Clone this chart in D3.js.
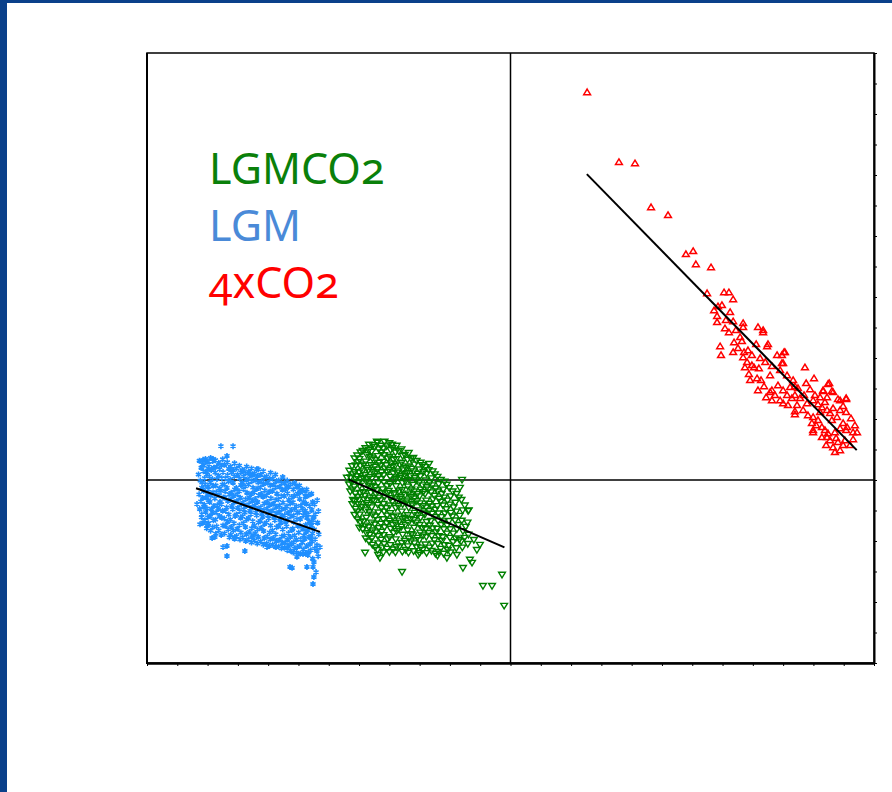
<!DOCTYPE html>
<html>
<head>
<meta charset="utf-8">
<script src="https://cdn.jsdelivr.net/npm/d3@7"></script>
<style>
  html, body { margin: 0; padding: 0; background: #fff; }
  svg { display: block; }
</style>
</head>
<body>
<div id="chart"></div>
<script>
// series labels + colours (legend order top to bottom)
var seriesNames = ['LGMCO2', 'LGM', '4xCO2'];
var seriesColors = ['#0a800a', '#4a8ad8', '#ff0000'];

// axis extents / tick steps read off the frame (no labels printed)
var xDomain = [-12, 12];
var yDomain = [-6, 14];

// LGM points (blue asterisks)
var lgm = [
  [-10.27,0.63],[-10.21,0.40],[-10.30,0.18],[-10.24,-0.02],[-10.19,-0.25],[-10.28,-0.47],[-10.22,-0.70],[-10.26,-0.95],[-10.20,-1.22],[-10.25,-1.45],
  [-10.07,0.69],[-10.12,0.48],[-10.05,0.27],[-10.10,0.06],[-10.08,-0.14],[-10.13,-0.36],[-10.04,-0.58],[-10.11,-0.81],[-10.06,-1.05],[-10.09,-1.32],[-10.03,-1.58],
  [-9.90,0.72],[-9.95,0.52],[-9.88,0.33],[-9.94,0.12],[-9.91,-0.08],[-9.96,-0.30],[-9.89,-0.51],[-9.93,-0.72],[-9.87,-0.95],[-9.92,-1.18],[-9.97,-1.42],[-9.90,-1.66],
  [-9.74,0.65],[-9.70,0.44],[-9.75,0.24],[-9.69,0.03],[-9.73,-0.18],[-9.71,-0.40],[-9.76,-0.61],[-9.68,-0.83],[-9.72,-1.06],[-9.74,-1.30],[-9.70,-1.52],[-9.73,-1.76],
  [-9.50,0.68],[-9.55,0.47],[-9.49,0.26],[-9.53,0.06],[-9.51,-0.15],[-9.56,-0.35],[-9.48,-0.57],[-9.54,-0.79],[-9.50,-1.01],[-9.53,-1.24],[-9.49,-1.49],[-9.55,-1.80],
  [-9.35,0.58],[-9.30,0.37],[-9.34,0.16],[-9.31,-0.05],[-9.36,-0.26],[-9.29,-0.47],[-9.33,-0.69],[-9.37,-0.90],[-9.30,-1.13],[-9.34,-1.37],[-9.32,-1.62],[-9.28,-1.88],
  [-9.11,0.55],[-9.15,0.33],[-9.12,0.12],[-9.16,-0.09],[-9.10,-0.31],[-9.14,-0.52],[-9.13,-0.74],[-9.17,-0.96],[-9.09,-1.18],[-9.13,-1.42],[-9.15,-1.66],[-9.11,-1.93],
  [-8.95,0.47],[-8.91,0.26],[-8.94,0.05],[-8.90,-0.16],[-8.96,-0.37],[-8.92,-0.58],[-8.89,-0.80],[-8.94,-1.02],[-8.91,-1.24],[-8.95,-1.48],[-8.90,-1.72],[-8.93,-1.95],
  [-8.71,0.44],[-8.75,0.22],[-8.72,0.01],[-8.76,-0.21],[-8.70,-0.42],[-8.74,-0.63],[-8.73,-0.85],[-8.77,-1.07],[-8.71,-1.30],[-8.75,-1.54],[-8.72,-1.77],[-8.74,-2.00],
  [-8.55,0.38],[-8.51,0.17],[-8.54,-0.04],[-8.50,-0.25],[-8.56,-0.46],[-8.52,-0.68],[-8.53,-0.90],[-8.57,-1.12],[-8.51,-1.35],[-8.54,-1.58],[-8.50,-1.82],[-8.55,-2.05],
  [-8.32,0.35],[-8.36,0.13],[-8.33,-0.08],[-8.37,-0.29],[-8.31,-0.50],[-8.35,-0.72],[-8.34,-0.94],[-8.38,-1.16],[-8.32,-1.39],[-8.35,-1.62],[-8.33,-1.86],[-8.36,-2.08],
  [-8.16,0.29],[-8.12,0.08],[-8.15,-0.13],[-8.11,-0.34],[-8.17,-0.55],[-8.13,-0.77],[-8.14,-0.99],[-8.18,-1.21],[-8.12,-1.44],[-8.15,-1.67],[-8.13,-1.90],[-8.16,-2.12],
  [-7.92,0.24],[-7.96,0.03],[-7.93,-0.18],[-7.97,-0.39],[-7.91,-0.60],[-7.95,-0.82],[-7.94,-1.04],[-7.98,-1.26],[-7.92,-1.49],[-7.95,-1.72],[-7.93,-1.95],[-7.96,-2.16],
  [-7.76,0.18],[-7.72,-0.03],[-7.75,-0.24],[-7.71,-0.45],[-7.77,-0.66],[-7.73,-0.88],[-7.74,-1.10],[-7.78,-1.32],[-7.72,-1.55],[-7.75,-1.78],[-7.73,-2.00],[-7.76,-2.19],
  [-7.52,0.10],[-7.56,-0.11],[-7.53,-0.32],[-7.57,-0.53],[-7.51,-0.74],[-7.55,-0.96],[-7.54,-1.18],[-7.58,-1.40],[-7.52,-1.62],[-7.55,-1.85],[-7.53,-2.06],[-7.56,-2.24],
  [-7.37,-0.02],[-7.33,-0.23],[-7.36,-0.44],[-7.32,-0.65],[-7.38,-0.86],[-7.34,-1.08],[-7.35,-1.30],[-7.39,-1.52],[-7.33,-1.74],[-7.36,-1.96],[-7.34,-2.16],[-7.37,-2.30],
  [-7.13,-0.10],[-7.17,-0.31],[-7.14,-0.52],[-7.18,-0.73],[-7.12,-0.94],[-7.16,-1.16],[-7.15,-1.38],[-7.19,-1.60],[-7.13,-1.82],[-7.16,-2.04],[-7.14,-2.24],[-7.17,-2.38],
  [-6.97,-0.18],[-6.93,-0.40],[-6.96,-0.62],[-6.92,-0.84],[-6.98,-1.06],[-6.94,-1.28],[-6.95,-1.50],[-6.99,-1.72],[-6.93,-1.94],[-6.96,-2.16],[-6.94,-2.42],
  [-6.73,-0.31],[-6.77,-0.55],[-6.74,-0.78],[-6.78,-1.01],[-6.72,-1.24],[-6.76,-1.47],[-6.75,-1.70],[-6.79,-1.93],[-6.73,-2.16],[-6.76,-2.40],
  [-6.57,-0.45],[-6.53,-0.72],[-6.56,-0.98],[-6.52,-1.24],[-6.58,-1.50],[-6.54,-1.76],[-6.55,-2.02],[-6.59,-2.30],[-6.53,-2.58],
  [-6.38,-0.66],[-6.34,-1.02],[-6.37,-1.40],[-6.33,-1.78],[-6.39,-2.14],[-6.35,-2.50],
  // in between the columns above
  [-10.17,0.52],[-10.14,0.29],[-10.18,-0.08],[-10.15,-0.30],[-10.16,-0.59],[-10.13,-0.88],[-10.19,-1.12],[-10.15,-1.40],
  [-10.01,0.60],[-9.98,0.37],[-10.02,0.18],[-9.99,-0.22],[-10.00,-0.46],[-9.97,-0.66],[-10.02,-0.93],[-9.99,-1.22],[-10.01,-1.50],
  [-9.83,0.62],[-9.80,0.40],[-9.84,0.03],[-9.81,-0.19],[-9.82,-0.41],[-9.79,-0.85],[-9.84,-1.08],[-9.81,-1.32],[-9.83,-1.55],
  [-9.63,0.56],[-9.60,0.35],[-9.64,0.14],[-9.61,-0.28],[-9.62,-0.50],[-9.59,-0.72],[-9.64,-0.95],[-9.61,-1.18],[-9.63,-1.65],
  [-9.44,0.50],[-9.41,0.06],[-9.45,-0.15],[-9.42,-0.37],[-9.43,-0.58],[-9.40,-1.02],[-9.45,-1.26],[-9.42,-1.50],[-9.44,-1.75],
  [-9.24,0.44],[-9.21,0.24],[-9.25,0.02],[-9.22,-0.42],[-9.23,-0.63],[-9.20,-0.85],[-9.25,-1.30],[-9.22,-1.54],[-9.24,-1.80],
  [-9.04,0.38],[-9.01,0.17],[-9.05,-0.26],[-9.02,-0.47],[-9.03,-0.69],[-9.00,-0.91],[-9.05,-1.13],[-9.02,-1.60],[-9.04,-1.84],
  [-8.84,0.33],[-8.81,0.12],[-8.85,-0.09],[-8.82,-0.30],[-8.83,-0.74],[-8.80,-0.96],[-8.85,-1.19],[-8.82,-1.42],[-8.84,-1.88],
  [-8.64,0.27],[-8.61,0.06],[-8.65,-0.15],[-8.62,-0.58],[-8.63,-0.79],[-8.60,-1.01],[-8.65,-1.24],[-8.62,-1.70],[-8.64,-1.94],
  [-8.45,0.22],[-8.42,0.01],[-8.46,-0.40],[-8.43,-0.62],[-8.44,-0.84],[-8.41,-1.06],[-8.46,-1.50],[-8.43,-1.74],[-8.45,-1.98],
  [-8.25,0.17],[-8.22,-0.04],[-8.26,-0.25],[-8.23,-0.46],[-8.24,-0.89],[-8.21,-1.11],[-8.26,-1.34],[-8.23,-1.57],[-8.25,-2.02],
  [-8.05,0.12],[-8.02,-0.09],[-8.06,-0.51],[-8.03,-0.72],[-8.04,-0.94],[-8.01,-1.16],[-8.06,-1.39],[-8.03,-1.85],[-8.05,-2.08],
  [-7.85,0.05],[-7.82,-0.15],[-7.86,-0.36],[-7.83,-0.78],[-7.84,-0.99],[-7.81,-1.21],[-7.86,-1.66],[-7.83,-1.90],[-7.85,-2.12],
  [-7.65,-0.02],[-7.62,-0.22],[-7.66,-0.63],[-7.63,-0.84],[-7.64,-1.05],[-7.61,-1.27],[-7.66,-1.50],[-7.63,-1.96],[-7.65,-2.18],
  [-7.46,-0.10],[-7.43,-0.31],[-7.47,-0.52],[-7.44,-0.94],[-7.45,-1.15],[-7.42,-1.37],[-7.47,-1.82],[-7.44,-2.05],[-7.46,-2.22],
  [-7.26,-0.14],[-7.23,-0.56],[-7.27,-0.77],[-7.24,-0.98],[-7.25,-1.20],[-7.22,-1.64],[-7.27,-1.87],[-7.24,-2.10],[-7.26,-2.32],
  [-7.06,-0.22],[-7.03,-0.45],[-7.07,-0.86],[-7.04,-1.07],[-7.05,-1.29],[-7.02,-1.51],[-7.07,-1.96],[-7.04,-2.20],[-7.06,-2.38],
  [-6.86,-0.32],[-6.83,-0.72],[-6.87,-0.94],[-6.84,-1.16],[-6.85,-1.60],[-6.82,-1.82],[-6.87,-2.05],[-6.84,-2.28],
  [-6.66,-0.50],[-6.63,-0.86],[-6.67,-1.12],[-6.64,-1.36],[-6.65,-1.86],[-6.62,-2.10],[-6.67,-2.36],
  [-6.47,-0.80],[-6.44,-1.12],[-6.48,-1.62],[-6.45,-1.94],[-6.46,-2.24],
  // scattered ones round the edge
  [-9.56,1.11],[-9.16,1.11],[-9.36,0.79],[-9.82,0.69],[-10.15,0.66],[-10.35,-0.79],[-9.99,-1.44],[-9.85,-1.90],
  [-9.76,-1.87],[-9.49,-2.20],[-9.36,-2.16],[-9.36,-2.49],[-9.10,-1.87],[-8.77,-2.33],[-8.53,-1.87],[-8.04,-2.20],
  [-7.74,-2.20],[-7.28,-2.85],[-7.05,-2.52],[-6.85,-2.43],[-6.69,-2.46],[-6.72,-2.85],[-6.52,-2.85],[-6.49,-3.18],
  [-6.52,-3.41],[-6.29,-2.20],[-6.49,-1.21],[-6.52,-1.38],[-6.78,-1.08],[-6.95,-0.36],[-6.78,-0.43],[-7.38,-0.23],
  [-8.37,0.36],[-8.83,0.30],[-8.60,0.20],[-6.49,-2.69],[-6.39,-2.33],[-6.59,-1.90],[-6.69,-1.64],[-6.62,-1.41],
  [-7.21,-2.88],[-6.42,-3.02]
];

// LGMCO2 points (green down triangles)
var lgmco2 = [
  [-5.40,0.07],[-5.32,0.30],[-5.28,0.08],[-5.33,-0.15],[-5.29,-0.38],[-5.20,-0.66],
  [-5.15,0.70],[-5.11,0.47],[-5.14,0.25],[-5.10,0.02],[-5.16,-0.22],[-5.12,-0.45],[-5.14,-0.70],[-5.11,-0.95],[-5.15,-1.15],
  [-4.95,0.90],[-4.99,0.68],[-4.96,0.46],[-5.00,0.24],[-4.94,0.02],[-4.98,-0.20],[-4.97,-0.43],[-5.01,-0.66],[-4.95,-0.90],[-4.98,-1.14],[-4.96,-1.38],[-4.99,-1.57],
  [-4.79,1.04],[-4.75,0.82],[-4.78,0.60],[-4.74,0.38],[-4.80,0.16],[-4.76,-0.06],[-4.77,-0.29],[-4.81,-0.52],[-4.75,-0.76],[-4.78,-1.00],[-4.76,-1.24],[-4.79,-1.50],[-4.75,-1.75],[-4.78,-1.92],
  [-4.55,1.14],[-4.59,0.92],[-4.56,0.70],[-4.60,0.48],[-4.54,0.26],[-4.58,0.04],[-4.57,-0.19],[-4.61,-0.42],[-4.55,-0.66],[-4.58,-0.90],[-4.56,-1.14],[-4.59,-1.40],[-4.55,-1.66],[-4.58,-1.92],[-4.56,-2.13],
  [-4.39,1.22],[-4.35,1.00],[-4.38,0.78],[-4.34,0.56],[-4.40,0.34],[-4.36,0.12],[-4.37,-0.11],[-4.41,-0.34],[-4.35,-0.58],[-4.38,-0.82],[-4.36,-1.07],[-4.39,-1.32],[-4.35,-1.58],[-4.38,-1.84],[-4.36,-2.08],[-4.39,-2.30],
  [-4.16,1.25],[-4.20,1.03],[-4.17,0.81],[-4.21,0.59],[-4.15,0.37],[-4.19,0.15],[-4.18,-0.08],[-4.22,-0.31],[-4.16,-0.55],[-4.19,-0.79],[-4.17,-1.04],[-4.20,-1.29],[-4.16,-1.55],[-4.19,-1.81],[-4.17,-2.10],[-4.20,-2.38],
  [-4.00,1.20],[-3.96,0.98],[-3.99,0.76],[-3.95,0.54],[-4.01,0.32],[-3.97,0.10],[-3.98,-0.13],[-4.02,-0.36],[-3.96,-0.60],[-3.99,-0.84],[-3.97,-1.09],[-4.00,-1.34],[-3.96,-1.60],[-3.99,-1.88],[-3.97,-2.14],[-4.00,-2.37],
  [-3.76,1.12],[-3.80,0.90],[-3.77,0.68],[-3.81,0.46],[-3.75,0.24],[-3.79,0.02],[-3.78,-0.21],[-3.82,-0.44],[-3.76,-0.68],[-3.79,-0.92],[-3.77,-1.17],[-3.80,-1.42],[-3.76,-1.68],[-3.79,-1.95],[-3.77,-2.20],[-3.80,-2.38],
  [-3.60,1.00],[-3.56,0.78],[-3.59,0.56],[-3.55,0.34],[-3.61,0.12],[-3.57,-0.10],[-3.58,-0.33],[-3.62,-0.56],[-3.56,-0.80],[-3.59,-1.04],[-3.57,-1.29],[-3.60,-1.54],[-3.56,-1.80],[-3.59,-2.07],[-3.57,-2.36],
  [-3.36,0.88],[-3.40,0.66],[-3.37,0.44],[-3.41,0.22],[-3.35,0.00],[-3.39,-0.22],[-3.38,-0.45],[-3.42,-0.68],[-3.36,-0.92],[-3.39,-1.16],[-3.37,-1.41],[-3.40,-1.66],[-3.36,-1.92],[-3.39,-2.18],[-3.37,-2.39],
  [-3.21,0.72],[-3.17,0.50],[-3.20,0.28],[-3.16,0.06],[-3.22,-0.16],[-3.18,-0.38],[-3.19,-0.61],[-3.23,-0.84],[-3.17,-1.08],[-3.20,-1.32],[-3.18,-1.57],[-3.21,-1.82],[-3.17,-2.08],[-3.20,-2.34],
  [-2.97,0.56],[-3.01,0.34],[-2.98,0.12],[-3.02,-0.10],[-2.96,-0.32],[-3.00,-0.54],[-2.99,-0.77],[-3.03,-1.00],[-2.97,-1.24],[-3.00,-1.48],[-2.98,-1.73],[-3.01,-1.98],[-2.97,-2.22],[-3.00,-2.40],
  [-2.81,0.42],[-2.77,0.20],[-2.80,-0.02],[-2.76,-0.24],[-2.82,-0.46],[-2.78,-0.68],[-2.79,-0.91],[-2.83,-1.14],[-2.77,-1.38],[-2.80,-1.62],[-2.78,-1.87],[-2.81,-2.12],[-2.77,-2.40],
  [-2.57,0.28],[-2.61,0.05],[-2.58,-0.18],[-2.62,-0.41],[-2.56,-0.64],[-2.60,-0.87],[-2.59,-1.11],[-2.63,-1.35],[-2.57,-1.59],[-2.60,-1.84],[-2.58,-2.09],[-2.61,-2.33],
  [-2.41,0.10],[-2.37,-0.14],[-2.40,-0.38],[-2.36,-0.62],[-2.42,-0.86],[-2.38,-1.10],[-2.39,-1.35],[-2.43,-1.60],[-2.37,-1.85],[-2.40,-2.10],[-2.38,-2.36],[-2.41,-2.49],
  [-2.18,-0.06],[-2.22,-0.32],[-2.19,-0.58],[-2.23,-0.84],[-2.17,-1.10],[-2.21,-1.36],[-2.20,-1.62],[-2.24,-1.88],[-2.18,-2.14],[-2.21,-2.42],
  [-2.02,-0.27],[-1.98,-0.54],[-2.01,-0.81],[-1.97,-1.08],[-2.03,-1.35],[-1.99,-1.62],[-2.00,-1.90],[-2.04,-2.16],[-1.98,-2.38],
  [-1.78,-0.46],[-1.82,-0.75],[-1.79,-1.04],[-1.83,-1.33],[-1.77,-1.62],[-1.81,-1.92],[-1.79,-2.24],
  [-1.62,-0.66],[-1.58,-1.00],[-1.61,-1.34],[-1.57,-1.68],[-1.63,-2.02],[-1.59,-2.22],
  [-1.38,-1.00],[-1.42,-1.40],[-1.39,-1.80],[-1.41,-2.10],
  // in between the columns above
  [-5.23,0.45],[-5.20,0.18],[-5.24,-0.08],[-5.21,-0.32],[-5.22,-0.80],
  [-5.06,0.80],[-5.03,0.58],[-5.07,0.12],[-5.04,-0.10],[-5.05,-0.56],[-5.02,-0.80],[-5.07,-1.04],[-5.04,-1.30],
  [-4.88,0.95],[-4.85,0.50],[-4.89,0.28],[-4.86,0.06],[-4.87,-0.40],[-4.84,-0.64],[-4.89,-0.88],[-4.86,-1.36],[-4.88,-1.62],
  [-4.68,0.98],[-4.65,0.76],[-4.69,0.32],[-4.66,0.10],[-4.67,-0.12],[-4.64,-0.58],[-4.69,-0.82],[-4.66,-1.06],[-4.68,-1.55],[-4.65,-1.80],[-4.67,-2.02],
  [-4.48,1.08],[-4.45,0.65],[-4.49,0.43],[-4.46,0.21],[-4.47,-0.24],[-4.44,-0.47],[-4.49,-0.70],[-4.46,-1.20],[-4.48,-1.46],[-4.45,-1.72],[-4.47,-2.22],
  [-4.28,1.12],[-4.25,0.90],[-4.29,0.47],[-4.26,0.25],[-4.27,0.03],[-4.24,-0.43],[-4.29,-0.67],[-4.26,-0.92],[-4.28,-1.44],[-4.25,-1.70],[-4.27,-1.96],[-4.24,-2.22],
  [-4.09,1.10],[-4.06,0.70],[-4.10,0.48],[-4.07,0.26],[-4.08,-0.20],[-4.05,-0.43],[-4.10,-0.92],[-4.07,-1.17],[-4.09,-1.42],[-4.06,-1.95],[-4.08,-2.26],
  [-3.89,1.05],[-3.86,0.65],[-3.90,0.43],[-3.87,0.21],[-3.88,-0.02],[-3.85,-0.48],[-3.90,-0.72],[-3.87,-1.22],[-3.89,-1.48],[-3.86,-1.74],[-3.88,-2.28],
  [-3.69,0.94],[-3.66,0.50],[-3.70,0.28],[-3.67,0.06],[-3.68,-0.38],[-3.65,-0.62],[-3.70,-0.86],[-3.67,-1.36],[-3.69,-1.62],[-3.66,-2.18],
  [-3.49,0.82],[-3.46,0.40],[-3.50,0.18],[-3.47,-0.04],[-3.48,-0.50],[-3.45,-0.74],[-3.50,-1.24],[-3.47,-1.48],[-3.49,-2.00],[-3.46,-2.30],
  [-3.29,0.70],[-3.26,0.36],[-3.30,0.12],[-3.27,-0.32],[-3.28,-0.56],[-3.25,-0.80],[-3.30,-1.28],[-3.27,-1.78],[-3.29,-2.02],
  [-3.10,0.62],[-3.07,0.20],[-3.11,-0.02],[-3.08,-0.46],[-3.09,-0.70],[-3.06,-1.16],[-3.11,-1.40],[-3.08,-1.90],[-3.10,-2.20],
  [-2.90,0.48],[-2.87,0.26],[-2.91,-0.18],[-2.88,-0.40],[-2.89,-0.86],[-2.86,-1.10],[-2.91,-1.58],[-2.88,-1.82],[-2.90,-2.30],
  [-2.70,0.32],[-2.67,-0.10],[-2.71,-0.32],[-2.68,-0.78],[-2.69,-1.02],[-2.66,-1.50],[-2.71,-1.74],[-2.68,-2.22],
  [-2.50,0.18],[-2.47,-0.28],[-2.51,-0.52],[-2.48,-0.98],[-2.49,-1.22],[-2.46,-1.72],[-2.51,-1.98],[-2.48,-2.42],
  [-2.30,0.00],[-2.27,-0.46],[-2.31,-0.72],[-2.28,-1.22],[-2.29,-1.48],[-2.26,-2.00],[-2.31,-2.26],
  [-2.11,-0.16],[-2.08,-0.68],[-2.12,-0.96],[-2.09,-1.50],[-2.10,-1.76],[-2.07,-2.30],
  [-1.91,-0.38],[-1.88,-0.90],[-1.92,-1.20],[-1.89,-1.76],[-1.90,-2.04],
  [-1.71,-0.58],[-1.68,-1.18],[-1.72,-1.48],[-1.69,-1.96],
  [-1.51,-0.84],[-1.48,-1.54],[-1.52,-1.90],
  // stragglers
  [-3.58,-3.02],[-2.69,0.52],[-1.60,0.00],[-1.67,-0.26],[-1.40,-1.02],[-1.27,-2.72],[-1.57,-2.89],[-1.34,-2.62],
  [-0.91,-3.48],[-0.61,-3.48],[-0.28,-3.11],[-0.21,-4.13],[-1.01,-2.13],[-1.11,-2.30],[-1.21,-1.97],[-1.77,-2.46],
  [-2.10,-2.56],[-4.37,-2.46],[-4.80,-2.39],[-4.31,-2.56],[-3.05,-2.46],[-4.41,1.25],[-3.91,1.15],[-4.67,1.15]
];

// 4xCO2 points (red up triangles)
var co2x4 = [
  [2.53,12.72],[3.58,10.43],[4.11,10.39],[4.64,8.95],[5.20,8.69],[5.79,7.41],[6.03,7.51],[6.12,7.08],[6.62,6.98],
  [6.49,6.13],[7.05,6.16],[7.21,6.16],[7.35,5.93],[6.82,5.38],[6.82,5.18],[7.11,5.25],[7.35,5.21],[7.21,4.85],
  [7.68,5.15],[7.68,5.02],[7.38,4.52],[7.35,4.20],[6.95,4.10],[7.64,4.56],[7.58,4.69],[7.84,4.26],[8.17,5.02],
  [8.34,4.92],[8.34,4.85],[8.50,4.46],[8.47,4.39],[7.68,4.03],[7.81,3.87],[7.97,3.77],[8.04,3.70],[7.74,3.70],
  [7.87,3.48],[8.20,3.67],[8.27,3.28],[8.57,3.44],[8.80,4.10],[9.06,4.20],[8.96,3.84],[8.90,3.61],[8.63,2.95],
  [8.57,2.89],[8.63,2.62],[8.83,3.11],[9.00,2.95],[9.00,2.52],[9.13,2.79],[9.23,3.05],[9.33,3.28],[9.39,3.08],
  [9.49,3.02],[9.72,3.70],[10.02,3.34],[9.76,3.18],[9.89,2.98],[9.69,2.79],[9.39,2.79],[9.56,2.69],[9.39,2.26],
  [9.39,2.16],[9.79,2.52],[9.99,2.62],[10.15,2.49],[10.32,2.95],[10.48,3.15],[10.61,2.92],[10.45,2.72],[10.81,2.66],
  [11.08,2.66],[10.98,2.43],[10.65,2.36],[10.45,2.30],[10.22,2.23],[9.99,2.07],[9.95,1.87],[9.99,1.57],[10.28,1.74],
  [10.48,1.54],[10.71,1.57],[10.88,1.70],[10.98,1.87],[11.11,1.74],[11.31,1.57],[11.44,1.57],[11.31,1.34],[10.98,1.15],
  [10.88,0.98],[10.65,1.08],[10.45,1.41],[10.28,1.41],[10.61,1.97],[10.78,2.07],[10.55,2.20],[10.15,1.97],[10.28,2.39],
  [10.05,2.79],[10.38,2.56],[10.22,2.72],[11.08,1.64],[11.21,1.15],[11.08,2.69],[10.88,2.62],[10.65,2.89],[10.52,3.18],
  [10.32,2.92],[9.03,4.20],[8.96,4.10],[9.00,3.84],[9.13,3.44],[9.99,1.64],
  [7.91,3.28],[8.14,3.34],[8.37,3.08],[8.73,2.79],[8.44,2.72],[8.17,2.95],[8.90,2.62],[9.16,2.46],[9.29,2.69],
  [9.46,2.46],[9.66,2.30],[9.82,2.13],[10.09,1.80],[10.38,1.64],[10.55,1.31],[10.75,1.38],[10.81,1.25],[10.42,1.15],
  [10.71,0.92],[11.04,1.31],[11.37,1.80],[11.24,2.03],[11.08,2.23],[10.88,2.30],[7.44,4.92],[7.08,4.98],[7.51,4.33],
  [7.97,4.10],[8.24,4.00],[8.41,3.87],[8.63,3.74],[8.11,4.46],[7.71,4.20],[6.85,5.70],[6.72,5.57],[6.98,5.74],
  [7.25,5.51],[6.92,4.39]
];

// least-squares lines drawn over each cloud (end points)
var fitLgm = [[-10.38, -0.27], [-6.29, -1.70]];
var fitLgmco2 = [[-5.35, 0.02], [-0.20, -2.21]];
var fitCo2x4 = [[2.52, 10.03], [11.43, 0.98]];

var width = 892, height = 792;
var plotL = 147, plotR = 874, plotT = 53, plotB = 663;

var svg = d3.select('#chart').append('svg')
  .attr('width', width)
  .attr('height', height);

// slide frame (blue strip left + top)
svg.append('rect').attr('x', 0).attr('y', 0).attr('width', 7).attr('height', height).attr('fill', '#0a408a');
svg.append('rect').attr('x', 0).attr('y', 0).attr('width', width).attr('height', 3).attr('fill', '#0a408a');

var x = d3.scaleLinear().domain(xDomain).range([plotL, plotR]);
var y = d3.scaleLinear().domain(yDomain).range([plotB, plotT]);

// plot box
svg.append('rect')
  .attr('x', plotL).attr('y', plotT)
  .attr('width', plotR - plotL).attr('height', plotB - plotT)
  .attr('fill', 'none').attr('stroke', '#000').attr('stroke-width', 1.5);

var xAxis = svg.append('g')
  .attr('transform', 'translate(0,' + plotB + ')')
  .call(d3.axisBottom(x).tickValues(d3.range(xDomain[0], xDomain[1] + 1, 1)).tickSize(3).tickSizeOuter(0).tickFormat(''));
xAxis.select('.domain').attr('stroke-width', 2.5);
xAxis.selectAll('.tick line').attr('stroke-width', 1);

var yAxis = svg.append('g')
  .attr('transform', 'translate(' + plotR + ',0)')
  .call(d3.axisRight(y).tickValues(d3.range(yDomain[0], yDomain[1] + 1, 1)).tickSize(3).tickSizeOuter(0).tickFormat(''));
yAxis.select('.domain').attr('stroke-width', 2);

svg.append('line')
  .attr('x1', plotL).attr('x2', plotL).attr('y1', plotT).attr('y2', plotB + 1)
  .attr('stroke', '#000').attr('stroke-width', 2);

// zero lines
svg.append('line')
  .attr('x1', plotL).attr('x2', plotR).attr('y1', y(0)).attr('y2', y(0))
  .attr('stroke', '#000').attr('stroke-width', 1.5);
svg.append('line')
  .attr('x1', x(0)).attr('x2', x(0)).attr('y1', plotT).attr('y2', plotB)
  .attr('stroke', '#000').attr('stroke-width', 1.5);

var star = 'M0,-3V3M-2.6,-1.5L2.6,1.5M-2.6,1.5L2.6,-1.5';
var triDown = 'M0,3L3.4,-2.6H-3.4Z';
var triUp = 'M0,-3L3.4,2.6H-3.4Z';

svg.append('g').selectAll('path')
  .data(lgm).enter().append('path')
  .attr('d', star)
  .attr('transform', function(d) { return 'translate(' + x(d[0]) + ',' + y(d[1]) + ')'; })
  .attr('stroke', '#1f8fff').attr('stroke-width', 1.6).attr('fill', 'none');

svg.append('g').selectAll('path')
  .data(lgmco2).enter().append('path')
  .attr('d', triDown)
  .attr('transform', function(d) { return 'translate(' + x(d[0]) + ',' + y(d[1]) + ')'; })
  .attr('stroke', '#008000').attr('stroke-width', 1.4).attr('fill', 'none');

svg.append('g').selectAll('path')
  .data(co2x4).enter().append('path')
  .attr('d', triUp)
  .attr('transform', function(d) { return 'translate(' + x(d[0]) + ',' + y(d[1]) + ')'; })
  .attr('stroke', '#ff0000').attr('stroke-width', 1.5).attr('fill', 'none');

var line = d3.line().x(function(d) { return x(d[0]); }).y(function(d) { return y(d[1]); });
[fitLgm, fitLgmco2, fitCo2x4].forEach(function(f) {
  svg.append('path').attr('d', line(f))
    .attr('stroke', '#000').attr('stroke-width', 2).attr('fill', 'none');
});

// legend text
svg.selectAll('.lab')
  .data(seriesNames).enter().append('text')
  .attr('class', 'lab')
  .attr('x', 209)
  .attr('y', function(d, i) { return 184 + i * 57; })
  .attr('fill', function(d, i) { return seriesColors[i]; })
  .style('font-family', '"Noto Sans", sans-serif')
  .style('font-size', '43px')
  .style('font-variant-numeric', 'oldstyle-nums')
  .text(function(d) { return d; });
</script>
</body>
</html>
